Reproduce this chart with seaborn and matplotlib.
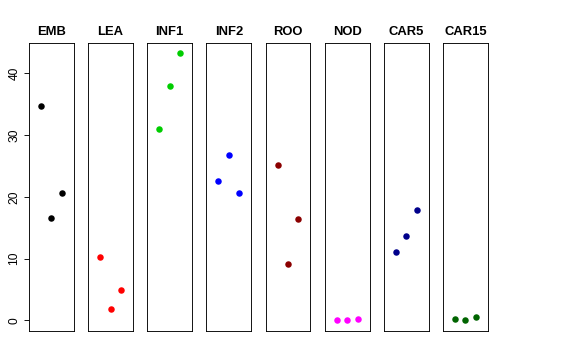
import numpy as np
import pandas as pd
import matplotlib
matplotlib.use("Agg")
import matplotlib.pyplot as plt
import seaborn as sns

# Tissues and their three replicate values
tissues = ["EMB", "LEA", "INF1", "INF2", "ROO", "NOD", "CAR5", "CAR15"]
replicate = [1, 2, 3]
emb = [34.7, 16.6, 20.7]
lea = [10.2, 1.85, 5.0]
inf1 = [31.0, 38.0, 43.3]
inf2 = [22.6, 26.7, 20.6]
roo = [25.2, 9.1, 16.4]
nod = [0.15, 0.1, 0.2]
car5 = [11.1, 13.6, 17.8]
car15 = [0.3, 0.05, 0.5]
colors = ["#000000", "#FF0000", "#00CD00", "#0000FF",
          "#8B0000", "#FF00FF", "#00008B", "#006400"]

values = [emb, lea, inf1, inf2, roo, nod, car5, car15]
rows = []
for t, vals in zip(tissues, values):
    for r, v in zip(replicate, vals):
        rows.append({"tissue": t, "rep": r, "value": v})
df = pd.DataFrame(rows)

sns.set_style("white", {"text.color": "black", "axes.labelcolor": "black",
                        "xtick.color": "black", "ytick.color": "black",
                        "axes.edgecolor": "black"})
plt.rcParams["font.family"] = ["Liberation Sans", "DejaVu Sans"]

fig, axes = plt.subplots(1, 8, figsize=(8, 5), dpi=72, sharey=True)
fig.subplots_adjust(left=0.0503, right=0.847, top=0.8806, bottom=0.0806, wspace=0.316)

for ax, t, col in zip(axes, tissues, colors):
    sub = df[df["tissue"] == t]
    sns.scatterplot(data=sub, x="rep", y="value", color=col, s=42,
                    linewidth=0, ax=ax, legend=False)
    ax.set_xlim(-0.16, 4.16)
    ax.set_ylim(-1.7, 44.9)
    ax.set_xticks([])
    ax.set_xlabel("")
    ax.set_ylabel("")
    ax.set_title(t, fontsize=13, fontweight="bold", pad=8, color="black")
    for sp in ax.spines.values():
        sp.set_visible(True)
        sp.set_color("black")
        sp.set_linewidth(0.9)
    ax.tick_params(axis="y", left=False, labelleft=False)

axes[0].set_yticks([0, 10, 20, 30, 40])
axes[0].tick_params(axis="y", left=True, labelleft=True, length=5.5,
                    width=0.9, direction="out", labelsize=12, pad=3,
                    colors="black")
for lab in axes[0].get_yticklabels():
    lab.set_rotation(90)
    lab.set_va("center")

fig.savefig("out.png", dpi=72)
